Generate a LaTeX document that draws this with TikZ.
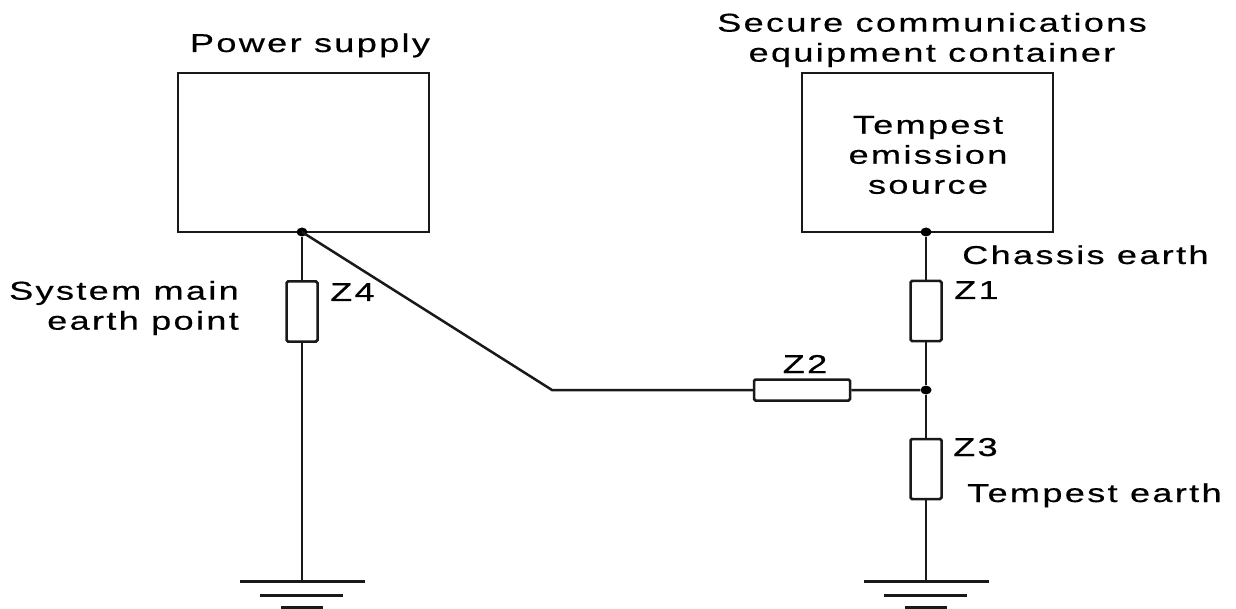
\documentclass[tikz,border=0pt]{standalone}
\usepackage{fontspec}
\usetikzlibrary{shapes.geometric}
\setmainfont[FakeStretch=1.4,LetterSpace=9,FakeBold=0.5]{Liberation Sans}
\begin{document}
\begin{tikzpicture}[x=1pt,y=-1pt,
 wire/.style={line width=2.5pt,black!90},
 box/.style={draw=black!90,line width=2.5pt,fill=white,inner sep=0pt},
 vres/.style={box,rounded corners=1.5pt,minimum width=31pt,minimum height=60pt},
 hres/.style={box,rounded corners=1.5pt,minimum width=96pt,minimum height=21pt},
 dot/.style={ellipse,fill=black,inner sep=0pt,minimum width=11pt,minimum height=9pt},
 lbl/.style={font=\fontsize{25.8}{30}\selectfont,align=center,inner sep=0pt,text=black},
 gnd/.style={line width=3pt,black!90}]
\useasboundingbox (0,0) rectangle (1236,609);
\node[box,minimum width=251pt,minimum height=159pt] (ps) at (303.5,152.5) {};
\node[box,minimum width=251pt,minimum height=159pt] (tc) at (927.5,152.5) {};
\node[lbl,anchor=base] (tps) at (310,52) {Power supply};
\node[lbl] (tsec) at (932,40) {Secure communications\\equipment container};
\node[lbl] (tem) at (928,155) {Tempest\\emission\\source};
\coordinate (bend) at (552,390);
\coordinate (g1) at (302,581);
\coordinate (g2) at (926,581);
\node[vres] (z4) at (302,311.5) {};
\node[vres] (z1) at (926,311) {};
\node[vres] (z3) at (926,469) {};
\node[hres] (z2) at (802,390) {};
\node[dot] (d1) at (302,232) {};
\node[dot] (d2) at (926,232) {};
\node[dot] (d3) at (926,390) {};
\draw[wire] (d1) -- (z4) -- (g1);
\draw[wire] (d2) -- (z1) -- (d3) -- (z3) -- (g2);
\draw[wire] (d1.center) -- (bend) -- (z2) -- (d3);
\draw[gnd] (240,581) -- (365,581);
\draw[gnd] (260,595) -- (343,595);
\draw[gnd] (281,607.5) -- (323,607.5);
\draw[gnd] (864,581) -- (989,581);
\draw[gnd] (884,595) -- (967,595);
\draw[gnd] (905,607.5) -- (947,607.5);
\node[lbl,align=right,anchor=east] (tsys) at (239,308) {System main\\earth point};
\node[lbl,anchor=base west] (tz4) at (330,301) {Z4};
\node[lbl,anchor=base west] (tz1) at (954,299) {Z1};
\node[lbl,anchor=base] (tz2) at (805,373) {Z2};
\node[lbl,anchor=base west] (tz3) at (953,456) {Z3};
\node[lbl,anchor=base west] (tch) at (962,264) {Chassis earth};
\node[lbl,anchor=base west] (tte) at (967,502) {Tempest earth};
\end{tikzpicture}
\end{document}
